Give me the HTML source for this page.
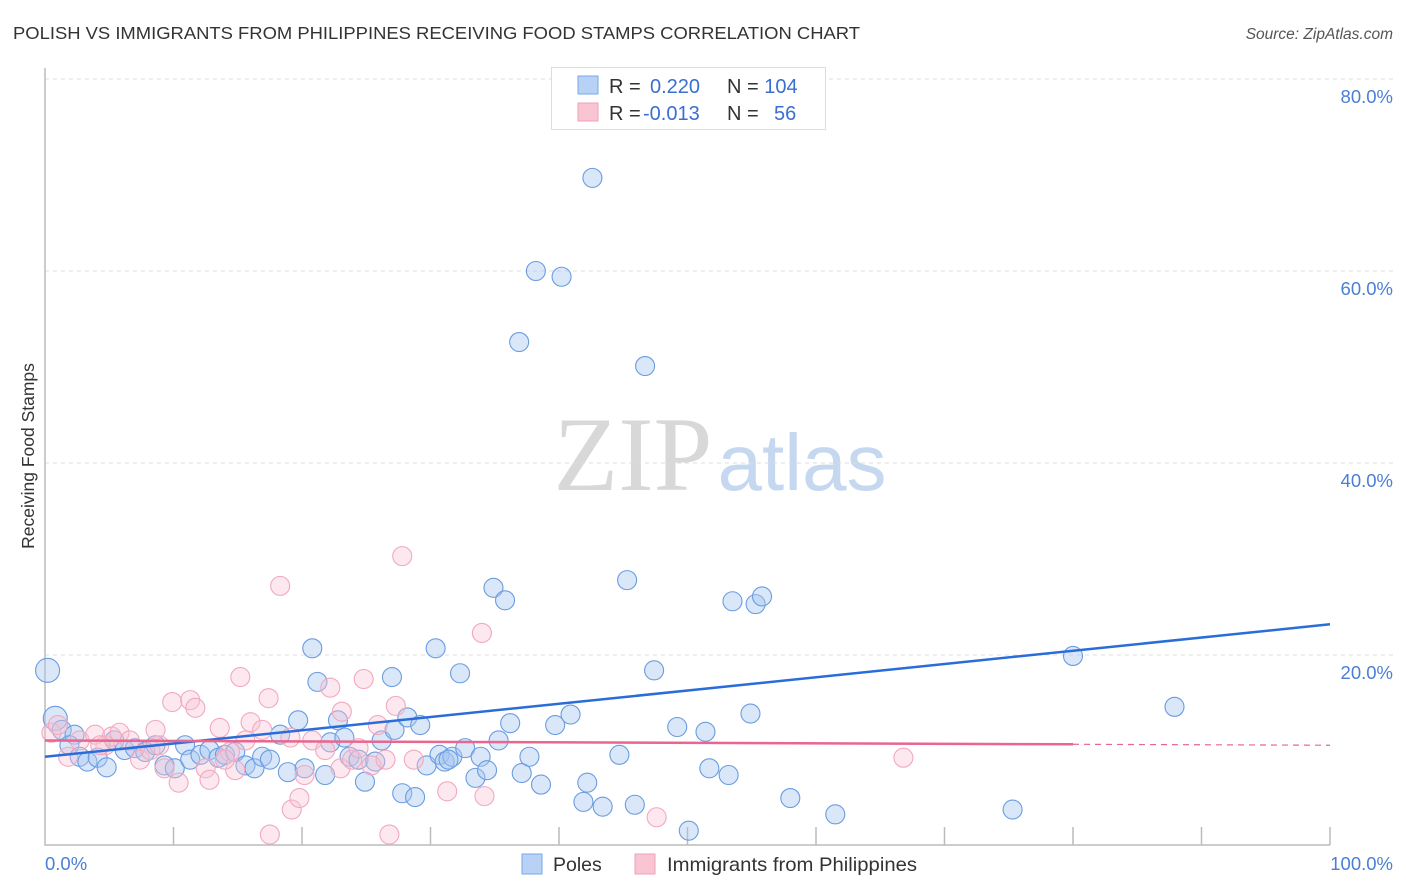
<!DOCTYPE html>
<html><head><meta charset="utf-8"><style>
body{margin:0;background:#fff;font-family:"Liberation Sans",sans-serif}
#c{position:absolute;left:0;top:0}
</style></head><body>
<svg id="c" width="1406" height="892" font-family="Liberation Sans, sans-serif">
<text x="13" y="39" font-size="17.5" fill="#333" textLength="847" lengthAdjust="spacingAndGlyphs">POLISH VS IMMIGRANTS FROM PHILIPPINES RECEIVING FOOD STAMPS CORRELATION CHART</text>
<text x="1393" y="39" font-size="15.5" fill="#555" font-style="italic" text-anchor="end">Source: ZipAtlas.com</text>
<text transform="translate(34,456) rotate(-90)" font-size="17.5" fill="#333" text-anchor="middle">Receiving Food Stamps</text>
<g>
<text x="633" y="490" font-size="106" font-family="Liberation Serif, serif" fill="#d8d8d8" text-anchor="middle">ZIP</text>
<text x="802" y="490" font-size="80" fill="#c5d8f0" text-anchor="middle">atlas</text>
</g>
<g id="grid"></g>
<g id="axes"></g>
<g id="pts"></g>
<g id="lines"></g>
<g>
<rect x="551.5" y="67.5" width="274" height="62" fill="#fff" stroke="#ddd"/>
<rect x="578" y="76" width="20" height="18" fill="#b8d2f5" stroke="#7aa8e6"/>
<rect x="578" y="103" width="20" height="18" fill="#f9c5d3" stroke="#f0a0b8"/>
<text x="609" y="93" font-size="20" fill="#333">R = <tspan fill="#3a6fd0" x="650">0.220</tspan><tspan x="727" fill="#333">N = </tspan><tspan fill="#3a6fd0">104</tspan></text>
<text x="609" y="120" font-size="20" fill="#333">R = <tspan fill="#3a6fd0" x="643">-0.013</tspan><tspan x="727" fill="#333">N = </tspan><tspan fill="#3a6fd0" x="774">56</tspan></text>
</g>
<g>
<rect x="522" y="854" width="20" height="20" fill="#b8d2f5" stroke="#7aa8e6"/>
<text x="553" y="871" font-size="19.5" fill="#333">Poles</text>
<rect x="635" y="854" width="20" height="20" fill="#f9c5d3" stroke="#f0a0b8"/>
<text x="667" y="871" font-size="19.5" fill="#333" textLength="250" lengthAdjust="spacingAndGlyphs">Immigrants from Philippines</text>
</g>
</svg>
<script>
const yTicks=[20,40,60,80];
const xTickLabels=["0.0%","100.0%"];
const blueX=[0.2,0.8,1.3,2.3,1.9,2.7,3.3,4.1,4.8,5.4,6.2,7.0,7.8,8.6,9.3,10.1,10.9,11.3,12.1,12.8,13.5,14.0,14.8,15.6,16.3,16.9,17.5,18.3,18.9,19.7,20.2,20.8,21.2,21.8,22.2,22.8,23.3,23.7,24.4,24.9,25.7,26.2,27.0,27.2,27.8,28.2,28.8,29.2,29.7,30.4,30.7,31.1,31.7,32.3,32.7,33.5,33.9,34.4,34.9,35.3,35.8,36.2,37.1,36.9,37.7,38.2,38.6,39.7,40.2,40.9,41.9,42.2,42.6,43.4,44.7,45.3,45.9,46.7,47.4,49.2,50.1,51.4,51.7,53.2,53.5,54.9,55.3,55.8,58.0,61.5,75.3,80.0,87.9,31.4];
const blueY=[18.4,13.4,12.2,11.7,10.6,9.4,8.9,9.3,8.3,11.1,10.1,10.3,9.9,10.6,8.5,8.2,10.6,9.1,9.6,10.1,9.3,9.6,9.9,8.5,8.2,9.4,9.1,11.7,7.8,13.2,8.2,20.7,17.2,7.5,10.9,13.2,11.4,9.4,9.1,6.8,8.9,11.1,17.7,12.2,5.6,13.5,5.2,12.7,8.5,20.7,9.6,8.9,9.4,18.1,10.3,7.2,9.4,8.0,27.0,11.1,25.7,12.9,7.7,52.6,9.4,60.0,6.5,12.7,59.4,13.8,4.7,6.7,69.7,4.2,9.6,27.8,4.4,50.1,18.4,12.5,1.7,12.0,8.2,7.5,25.6,13.9,25.3,26.1,5.1,3.4,3.9,19.9,14.6,9.1];
const pinkX=[0.5,1.0,1.8,2.7,3.9,4.7,5.2,5.8,6.6,7.4,8.2,8.9,9.3,9.9,10.4,11.3,11.7,12.5,12.8,13.6,14.4,14.8,15.2,15.6,16.0,16.9,17.4,17.5,18.3,19.1,19.2,19.8,20.2,20.8,21.8,22.2,23.0,23.1,23.9,24.4,24.8,25.4,25.9,26.5,26.8,27.3,27.8,28.7,31.3,34.0,34.2,47.6,66.8,4.3,8.6,14.0];
const pinkY=[11.9,12.7,9.4,11.1,11.7,10.6,11.5,11.9,11.1,9.1,10.1,10.6,8.2,15.1,6.7,15.3,14.5,8.2,7.0,12.4,9.9,8.0,17.7,11.1,13.0,12.2,15.5,1.3,27.2,11.4,3.9,5.1,7.5,11.1,10.1,16.6,8.2,14.1,9.1,10.3,17.5,8.5,12.7,9.1,1.3,14.7,30.3,9.1,5.8,22.3,5.3,3.1,9.3,10.6,12.2,9.1];
const blueTrend=[9.4,23.2];
const pinkTrend=[11.1,10.6];
const pinkSolidEnd=80;
const NS="http://www.w3.org/2000/svg";
const L=45,R=1330,B=847,T=79;
function sx(v){return L+(R-L)*v/100;}
function sy(v){return B-(B-T)*v/80;}
function mk(tag,attrs,parent){const e=document.createElementNS(NS,tag);for(const k in attrs)e.setAttribute(k,attrs[k]);parent.appendChild(e);return e;}
const grid=document.getElementById('grid'),axes=document.getElementById('axes'),pts=document.getElementById('pts'),lines=document.getElementById('lines');
yTicks.forEach(t=>{
  const g=mk('line',{x1:L,x2:1393,y1:sy(t),y2:sy(t),stroke:'#ddd','stroke-dasharray':'4,4'},grid);
  
  
  const tx=mk('text',{x:1393,y:sy(t)+24,'font-size':18.5,fill:'#4a7fd4','text-anchor':'end'},axes);
  tx.textContent=t.toFixed(1)+'%';
  
  
});
const ax=mk('path',{d:`M${L},68 V845 H${R}`,stroke:'#bbb',fill:'none','stroke-width':1.5},axes);


for(let i=1;i<=10;i++){
  const tk=mk('line',{x1:sx(i*10),x2:sx(i*10),y1:827,y2:845,stroke:'#bbb','stroke-width':1.5},axes);
  
  
}
const xl0=mk('text',{x:45,y:870,'font-size':18.5,fill:'#4a7fd4'},axes);xl0.textContent=xTickLabels[0];


const xl1=mk('text',{x:1393,y:870,'font-size':18.5,fill:'#4a7fd4','text-anchor':'end'},axes);xl1.textContent=xTickLabels[1];


blueX.forEach((x,i)=>{
  const c=mk('circle',{cx:sx(x),cy:sy(blueY[i]),r:i<2?12:9.5,fill:'rgba(165,198,240,0.42)',stroke:'#6a9ce0','stroke-width':1.1},pts);
  
  
});
pinkX.forEach((x,i)=>{
  const c=mk('circle',{cx:sx(x),cy:sy(pinkY[i]),r:9.5,fill:'rgba(248,195,210,0.38)',stroke:'#f2a8bf','stroke-width':1.1},pts);
  
  
});
const bl=mk('line',{x1:sx(0),y1:sy(blueTrend[0]),x2:sx(100),y2:sy(blueTrend[1]),stroke:'#2a6dd9','stroke-width':2.5},lines);


const pm=pinkTrend[0]+(pinkTrend[1]-pinkTrend[0])*pinkSolidEnd/100;
const pl=mk('line',{x1:sx(0),y1:sy(pinkTrend[0]),x2:sx(pinkSolidEnd),y2:sy(pm),stroke:'#e8668f','stroke-width':2.5},lines);


const pd=mk('line',{x1:sx(pinkSolidEnd),y1:sy(pm),x2:sx(100),y2:sy(pinkTrend[1]),stroke:'#e8668f','stroke-width':1.2,'stroke-dasharray':'6,5'},lines);


</script>
</body></html>
